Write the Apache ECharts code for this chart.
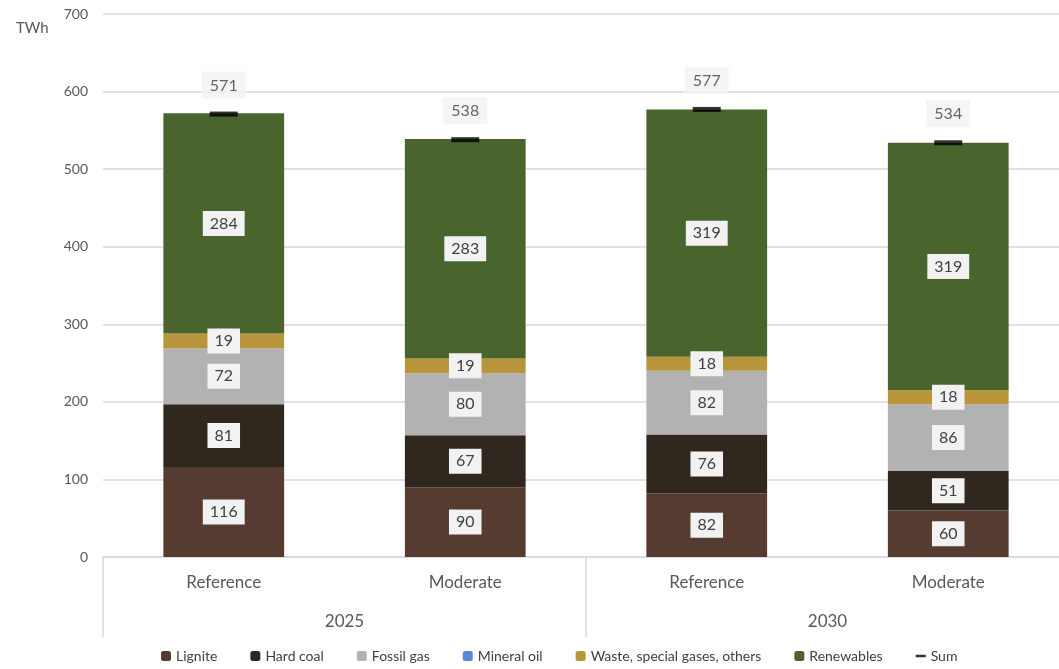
<!DOCTYPE html>
<html><head><meta charset="utf-8">
<script src="https://cdn.jsdelivr.net/npm/echarts@6/dist/echarts.min.js"></script>
<style>html,body{margin:0;padding:0;background:#fff;overflow:hidden}#c{width:1069px;height:669px}</style>
</head><body><div id="c"></div>
<script>
const scenarios = ['Reference', 'Moderate', 'Reference', 'Moderate'];
const years = ['2025', '2030'];
const lignite = [116, 90, 82, 60];
const hardCoal = [81, 67, 76, 51];
const fossilGas = [72, 80, 82, 86];
const mineralOil = [0, 0, 0, 0];
const waste = [19, 19, 18, 18];
const renewables = [284, 283, 319, 319];
const sums = [571, 538, 577, 534];
const yTicks = [0, 100, 200, 300, 400, 500, 600, 700];

const FONT = 'Lato';
const labelStyle = {
  show: true, position: 'inside', color: '#404040', fontSize: 16, fontFamily: FONT,
  backgroundColor: '#f2f2f2', padding: [5, 7, 4, 7],
  formatter: p => (p.value ? p.value : '')
};
function stackSeries(name, data, color) {
  return { name, type: 'bar', stack: 'total', data, barWidth: '50%',
    itemStyle: { color }, label: labelStyle, emphasis: { disabled: true } };
}
const chart = echarts.init(document.getElementById('c'));
chart.setOption({
  animation: false,
  textStyle: { fontFamily: FONT },
  title: { text: 'TWh', left: 11, top: 16, textStyle: { fontSize: 15, fontWeight: 'normal', color: '#595959', fontFamily: FONT } },
  grid: { left: 103, top: 14, right: 0, bottom: 112, containLabel: false },
  legend: {
    left: 156, bottom: 1, itemWidth: 10, itemHeight: 10, itemGap: 33,
    textStyle: { fontSize: 14, color: '#404040', fontFamily: FONT },
    data: ['Lignite', 'Hard coal', 'Fossil gas', 'Mineral oil', 'Waste, special gases, others', 'Renewables',
      { name: 'Sum', icon: 'path://M0,4 L10,4 L10,6.5 L0,6.5 Z' }]
  },
  xAxis: [
    { type: 'category', data: scenarios, position: 'bottom',
      axisLine: { lineStyle: { color: '#d9d9d9', width: 1.5 } }, axisTick: { show: false },
      axisLabel: { fontSize: 17, color: '#595959', margin: 17, fontFamily: FONT } },
    { type: 'category', data: years, position: 'bottom', gridIndex: 0,
      axisLine: { show: false },
      axisTick: { show: true, length: 80, lineStyle: { color: '#d9d9d9', width: 1.5 } },
      axisLabel: { fontSize: 17, color: '#595959', margin: 56, fontFamily: FONT } }
  ],
  yAxis: { type: 'value', min: 0, max: 700, interval: 100,
    axisLine: { show: false }, axisTick: { show: false },
    splitLine: { lineStyle: { color: '#d9d9d9', width: 1.5 } },
    axisLabel: { fontSize: 14, color: '#595959', margin: 15, fontFamily: FONT,
      formatter: v => (yTicks.includes(v) ? String(v) : '') } },
  series: [
    stackSeries('Lignite', lignite, '#553b30'),
    stackSeries('Hard coal', hardCoal, '#30271f'),
    stackSeries('Fossil gas', fossilGas, '#b2b2b2'),
    stackSeries('Mineral oil', mineralOil, '#5b87d5'),
    stackSeries('Waste, special gases, others', waste, '#b8953a'),
    stackSeries('Renewables', renewables, '#4a642e'),
    { name: 'Sum', type: 'scatter', data: sums, symbol: 'rect', symbolSize: [28, 5],
      itemStyle: { color: '#000' }, z: 5,
      label: { show: true, position: 'top', distance: 13, color: '#404040', fontSize: 16, fontFamily: FONT,
        backgroundColor: '#f2f2f2', padding: [6, 8, 5, 8] } }
  ]
});
</script></body></html>
